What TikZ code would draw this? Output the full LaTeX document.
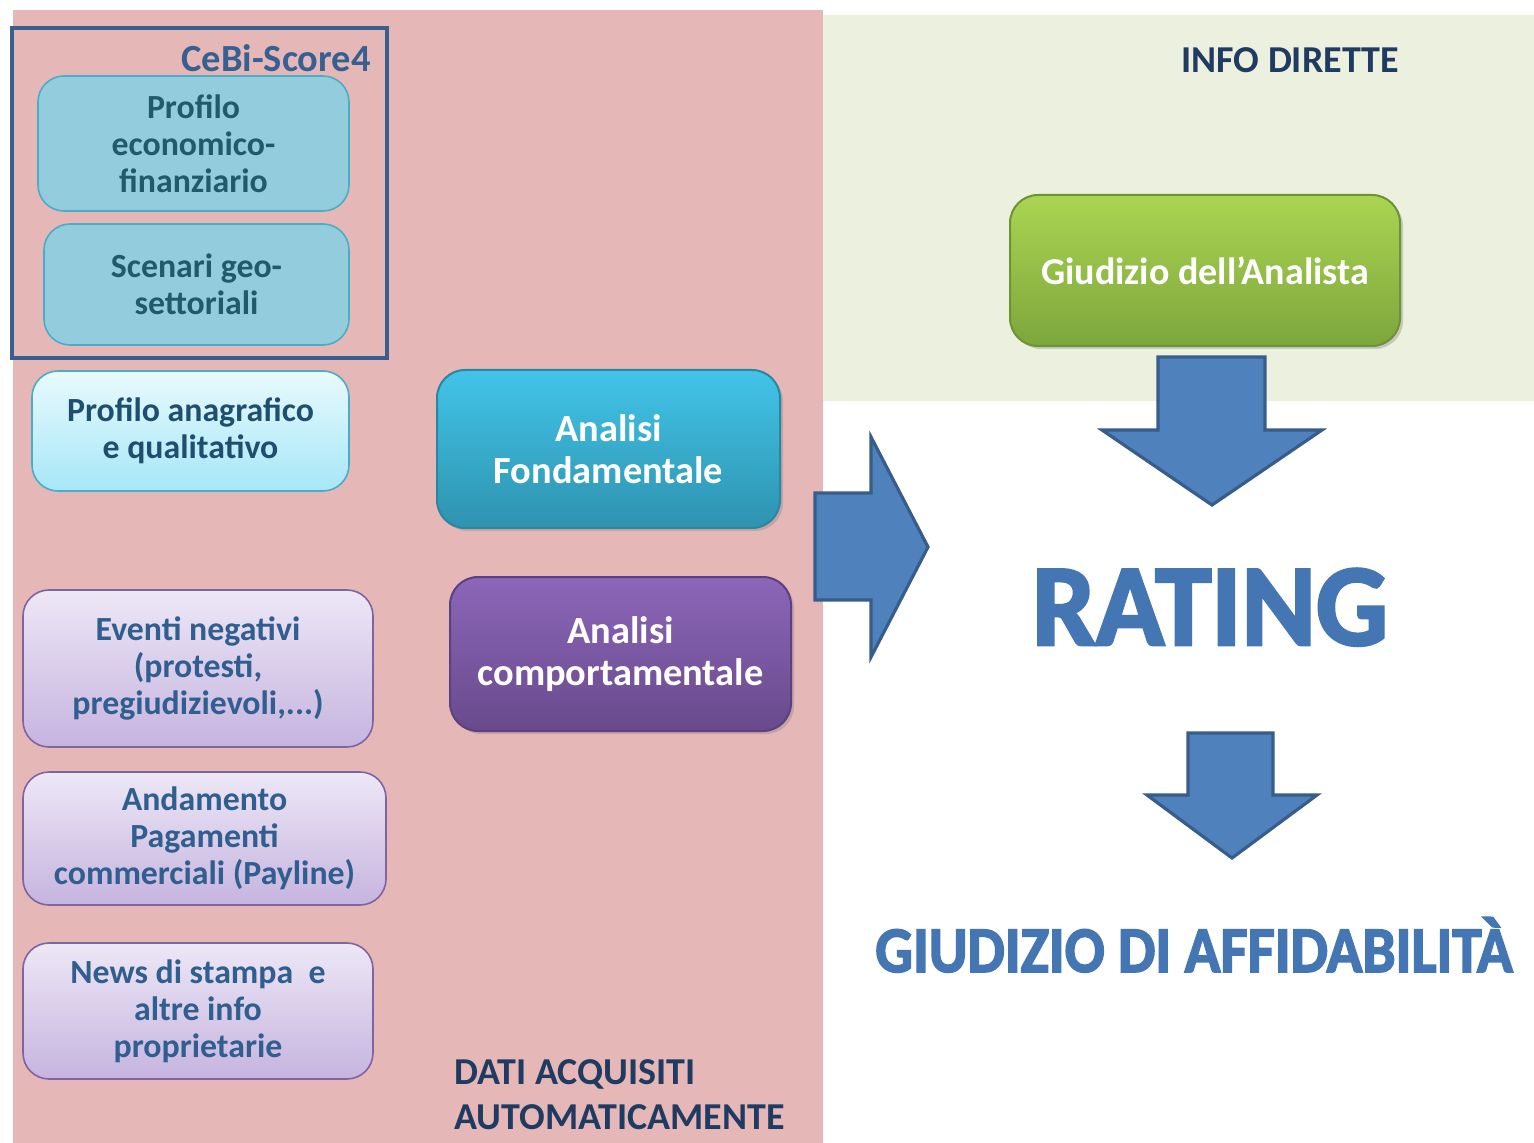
\documentclass[tikz,border=0pt]{standalone}
\usepackage{fontspec}
\setmainfont{Carlito}
\newfontfamily\artfont{Carlito Bold}[FakeBold=2.5]
\usetikzlibrary{shadows}
\definecolor{pinkbg}{HTML}{E5B8B7}
\definecolor{greenbg}{HTML}{EBF0DF}
\definecolor{framec}{HTML}{3A5F8E}
\definecolor{tealfill}{HTML}{93CDDD}
\definecolor{tealline}{HTML}{4BACC6}
\definecolor{tealtext}{HTML}{215A6C}
\definecolor{cyantop}{HTML}{E8FAFD}
\definecolor{cyanbot}{HTML}{A6E7F8}
\definecolor{cyantext}{HTML}{1F4E6E}
\definecolor{lavtop}{HTML}{EDE7F6}
\definecolor{lavbot}{HTML}{C6B4DF}
\definecolor{lavline}{HTML}{8064A2}
\definecolor{lavtext}{HTML}{2F5E8F}
\definecolor{aftop}{HTML}{42C4E8}
\definecolor{afbot}{HTML}{2E93B0}
\definecolor{afline}{HTML}{2A86A1}
\definecolor{actop}{HTML}{8C66B9}
\definecolor{acbot}{HTML}{684A8C}
\definecolor{acline}{HTML}{5C4080}
\definecolor{grtop}{HTML}{AAD552}
\definecolor{grbot}{HTML}{7DA63C}
\definecolor{grline}{HTML}{6E9334}
\definecolor{arrfill}{HTML}{4F81BD}
\definecolor{arrline}{HTML}{385D8A}
\definecolor{headtext}{HTML}{1F3B62}
\definecolor{titleblue}{HTML}{366092}
\definecolor{artblue}{HTML}{4576B4}
\tikzset{
  smalltxt/.style={font=\fontsize{16.9pt}{18.5pt}\selectfont\bfseries, align=center},
  bigtxt/.style={font=\fontsize{19.2pt}{21pt}\selectfont\bfseries, align=center},
  databox/.style={rounded corners=13pt, line width=0.8pt, inner sep=0pt},
  cebibox/.style={databox, draw=tealline, fill=tealfill, text=tealtext, smalltxt},
  cyanbox/.style={databox, draw=tealline, top color=cyantop, bottom color=cyanbot, text=cyantext, smalltxt},
  lavbox/.style={databox, draw=lavline, top color=lavtop, bottom color=lavbot, text=lavtext, smalltxt},
  anbox/.style={rounded corners=14pt, line width=1pt, inner sep=0pt, text=white, bigtxt,
     drop shadow={opacity=0.35, shadow xshift=1.5pt, shadow yshift=-1.5pt}},
  blockarrow/.style={fill=arrfill, draw=arrline, line width=1.6pt, line join=miter},
  headlbl/.style={font=\fontsize{19pt}{23pt}\selectfont\bfseries, text=headtext, inner sep=0pt},
  arttxt/.style={anchor=base, inner sep=0pt, text=artblue},
}
\begin{document}
\begin{tikzpicture}[x=0.5pt, y=-0.5pt]
\useasboundingbox (0,0) rectangle (1534,1143);
\fill[white] (0,0) rectangle (1534,1143);
% background regions
\fill[pinkbg] (13,10) rectangle (823,1143);
\fill[greenbg] (823,15) rectangle (1534,401);
% CeBi-Score4 frame
\draw[framec, line width=2pt] (12,28) rectangle (387,358);
\node[anchor=base east, inner sep=0pt, text=titleblue, font=\fontsize{19.2pt}{21pt}\selectfont\bfseries] (cebi) at (371,72) {CeBi-Score4};
% left data boxes
\node[cebibox, minimum width=155.5pt, minimum height=67.5pt] (pef) at (193.5,143.5) {Profilo\\economico-\\finanziario};
\node[cebibox, minimum width=152.5pt, minimum height=60.5pt] (sgs) at (196.5,284.5) {Scenari geo-\\settoriali};
\node[cyanbox, minimum width=158.5pt, minimum height=60pt] (paq) at (190.5,431) {Profilo anagrafico\\e qualitativo};
\node[lavbox, minimum width=175pt, minimum height=78.5pt] (evn) at (198,668.5) {Eventi negativi\\(protesti,\\pregiudizievoli,...)};
\node[lavbox, minimum width=181.5pt, minimum height=66.5pt] (apc) at (204.5,838.5) {Andamento\\Pagamenti\\commerciali (Payline)};
\node[lavbox, minimum width=175pt, minimum height=68pt] (nws) at (198,1011) {News di stampa~ e\\altre info\\proprietarie};
% analysis boxes
\node[anbox, draw=afline, top color=aftop, bottom color=afbot, minimum width=171.5pt, minimum height=79pt] (af) at (608.5,449) {Analisi\\Fondamentale};
\node[anbox, draw=acline, top color=actop, bottom color=acbot, minimum width=170.5pt, minimum height=77pt] (ac) at (620.5,654) {Analisi\\comportamentale};
% bottom-left label
\node[headlbl, anchor=base west] (dati) at (454,1084) {DATI ACQUISITI};
\node[headlbl, anchor=base west] (dati2) at (454,1129) {AUTOMATICAMENTE};
% right part
\node[headlbl, anchor=base west] (info) at (1181,73) {INFO DIRETTE};
\node[anbox, draw=grline, top color=grtop, bottom color=grbot, minimum width=195pt, minimum height=75.5pt,
      font=\fontsize{19pt}{21pt}\selectfont\bfseries] (giud) at (1205,270.5) {Giudizio dell’Analista};
% block arrows
\draw[blockarrow] (815,493) -- (871,493) -- (871,437) -- (928,547) -- (871,657) -- (871,600) -- (815,600) -- cycle;
\draw[blockarrow] (1158,357) -- (1265,357) -- (1265,430) -- (1322,430) -- (1212,505) -- (1102,430) -- (1158,430) -- cycle;
\draw[blockarrow] (1188,733) -- (1273,733) -- (1273,795) -- (1317,795) -- (1232,858) -- (1147,795) -- (1188,795) -- cycle;
% big labels
\node[arttxt, font=\artfont\fontsize{56.5pt}{60pt}\selectfont] (rating) at (1210,645) {\scalebox{1}[1.03]{RATING}};
\node[arttxt, font=\artfont\fontsize{29.6pt}{32pt}\selectfont] (aff) at (1194,972) {\scalebox{1}[1.1]{GIUDIZIO DI AFFIDABILITÀ}};
\end{tikzpicture}
\end{document}
